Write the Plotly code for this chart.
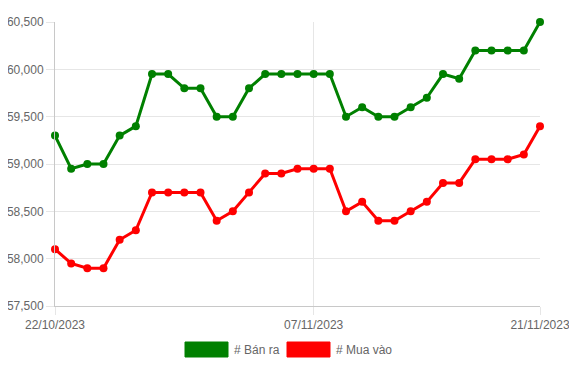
import plotly.graph_objects as go
import pandas as pd

dates = pd.date_range("2023-10-22", "2023-11-21", freq="D")
ban_ra = [59300, 58950, 59000, 59000, 59300, 59400, 59950, 59950, 59800, 59800,
          59500, 59500, 59800, 59950, 59950, 59950, 59950, 59950, 59500, 59600,
          59500, 59500, 59600, 59700, 59950, 59900, 60200, 60200, 60200, 60200, 60500]
mua_vao = [58100, 57950, 57900, 57900, 58200, 58300, 58700, 58700, 58700, 58700,
           58400, 58500, 58700, 58900, 58900, 58950, 58950, 58950, 58500, 58600,
           58400, 58400, 58500, 58600, 58800, 58800, 59050, 59050, 59050, 59100, 59400]
x_ticks = ["2023-10-22", "2023-11-07", "2023-11-21"]
x_ticktext = ["22/10/2023", "07/11/2023", "21/11/2023"]
y_ticks = [57500, 58000, 58500, 59000, 59500, 60000, 60500]
names = ["# Bán ra", "# Mua vào"]
colors = ["#008000", "#ff0000"]

fig = go.Figure()
for vals, name, col in zip([ban_ra, mua_vao], names, colors):
    fig.add_trace(go.Scatter(x=dates, y=vals, name=name, mode="lines+markers",
                             line=dict(color=col, width=3),
                             marker=dict(color=col, size=8),
                             cliponaxis=False, showlegend=False))

font = dict(family="Liberation Sans, Arial, sans-serif", size=12, color="#666666")
# page body has an 8px margin, so the figure is offset by 8px
fig.update_layout(
    width=569, height=364,
    margin=dict(l=47, r=37, t=14, b=66, autoexpand=False),
    paper_bgcolor="white", plot_bgcolor="white",
    font=font,
    showlegend=False,
)
fig.update_xaxes(type="date", range=[x_ticks[0], x_ticks[-1]],
                 tickvals=x_ticks, ticktext=x_ticktext, automargin=False,
                 showgrid=True, gridcolor="#e6e6e6", gridwidth=1,
                 ticks="outside", ticklen=8, tickcolor="#e6e6e6",
                 showline=True, linecolor="#c8c8c8", linewidth=1,
                 zeroline=False, tickfont=font)
fig.update_yaxes(range=[57500, 60500], tickvals=y_ticks, tickformat=",",
                 automargin=False,
                 showgrid=True, gridcolor="#e6e6e6", gridwidth=1,
                 ticks="outside", ticklen=8, tickcolor="#e6e6e6",
                 showline=True, linecolor="#c8c8c8", linewidth=1,
                 zeroline=False, tickfont=font)

# Custom legend with filled boxes
legend_y = 350
boxes = [(185, 228), (287, 330)]
for (x0, x1), name, col in zip(boxes, names, colors):
    fig.add_shape(type="rect", xref="paper", yref="paper",
                  x0=(x0 - 55) / 485, x1=(x1 - 55) / 485,
                  y0=(306 - (legend_y + 7)) / 284, y1=(306 - (legend_y - 8)) / 284,
                  fillcolor=col, line=dict(color=col, width=1))
    fig.add_annotation(text=name, xref="paper", yref="paper",
                       x=(x1 + 4 - 55) / 485, y=(306 - legend_y) / 284,
                       xanchor="left", yanchor="middle", showarrow=False, font=font)

fig.write_html("out.html")
